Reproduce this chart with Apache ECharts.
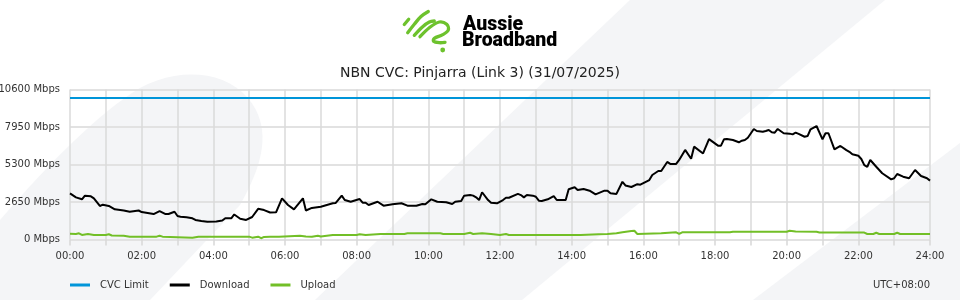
<!DOCTYPE html>
<html><head><meta charset="utf-8">
<script src="https://cdn.jsdelivr.net/npm/echarts@6/dist/echarts.min.js"></script>
<style>html,body{margin:0;padding:0;background:#fff}#c{width:960px;height:300px}</style>
</head><body><div id="c"></div>
<script>
const chartTitle = 'NBN CVC: Pinjarra (Link 3) (31/07/2025)';
const brandLines = ['Aussie', 'Broadband'];
const timezoneLabel = 'UTC+08:00';
const seriesNames = ['CVC Limit', 'Download', 'Upload'];
const seriesColors = ['#0095d9', '#000000', '#72bf27'];
const xTickLabels = ['00:00','02:00','04:00','06:00','08:00','10:00','12:00','14:00','16:00','18:00','20:00','22:00','24:00'];
const yTickValues = [0, 2650, 5300, 7950, 10600];
const cvcLimitMinutes = [0, 1440];
const cvcLimitMbps = [10000, 10000];
const downloadMinutes = [0,10,20,25,35,40,50,55,65,75,90,100,115,120,130,140,150,160,165,175,180,185,195,205,210,220,230,245,255,260,270,275,285,295,305,315,325,335,345,355,365,375,390,395,405,420,440,445,455,460,470,485,490,495,500,515,525,540,555,565,580,590,595,605,615,630,640,645,655,660,670,675,680,685,690,700,705,710,715,725,730,735,750,755,760,765,775,780,785,790,800,810,815,830,835,845,850,860,870,880,895,900,905,915,925,930,940,950,955,970,975,985,990,1000,1005,1015,1020,1030,1040,1045,1060,1070,1085,1090,1095,1100,1110,1120,1125,1130,1135,1145,1150,1160,1165,1170,1175,1180,1185,1195,1205,1210,1215,1220,1230,1235,1240,1250,1260,1265,1270,1280,1290,1300,1305,1310,1320,1325,1330,1335,1340,1350,1360,1375,1380,1385,1395,1405,1415,1425,1435,1440];
const downloadMbps = [3260,2980,2840,3100,3050,2910,2370,2460,2370,2130,2050,1960,2050,1940,1870,1800,2010,1800,1800,1960,1660,1610,1570,1500,1380,1310,1260,1270,1340,1500,1500,1770,1470,1380,1590,2170,2080,1910,1920,2910,2440,2130,2910,2050,2230,2320,2560,2580,3100,2790,2670,2860,2600,2600,2440,2670,2390,2490,2560,2390,2390,2510,2490,2840,2670,2630,2510,2670,2720,3100,3140,3100,2980,2790,3340,2790,2600,2580,2560,2790,2950,2950,3220,3140,2980,3140,3100,3020,2740,2720,2840,3070,2790,2790,3550,3690,3500,3570,3450,3190,3450,3450,3260,3220,4080,3820,3710,3910,3870,4200,4560,4840,4840,5480,5340,5340,5620,6330,5710,6560,6080,7090,6630,6630,7080,7100,7030,6870,6980,7030,7190,7810,7670,7620,7670,7740,7580,7550,7810,7510,7480,7430,7550,7460,7260,7310,7790,8020,7080,7510,7510,6370,6610,6320,6200,6020,5920,5690,5260,5140,5620,5140,4680,4250,4330,4630,4440,4330,4910,4490,4330,4160];
const uploadMinutes = [0,10,15,20,30,40,60,65,70,90,100,145,150,155,205,215,300,305,315,320,325,335,350,385,395,405,415,420,440,480,485,495,520,560,565,620,625,660,670,675,690,705,720,730,735,855,885,900,915,925,940,945,950,990,1015,1020,1025,1055,1105,1110,1200,1205,1215,1250,1255,1330,1335,1345,1350,1355,1380,1385,1390,1440];
const uploadMbps = [400,390,440,320,390,320,320,370,280,270,200,200,270,200,130,200,200,130,200,90,180,200,200,270,210,200,270,210,320,320,370,320,390,390,440,440,390,390,480,390,440,390,320,390,320,320,370,390,440,510,600,620,390,440,510,390,510,510,510,550,550,620,570,550,490,490,390,390,480,390,390,480,390,390];

function pairs(xs, ys) { return xs.map((x, i) => [x, ys[i]]); }
// sample a chain of cubic beziers: start point then [c1x,c1y,c2x,c2y,x,y] segments, or [x,y] lines
function curve(start, segs) {
  const pts = [start.slice()];
  let p = start.slice();
  segs.forEach(s => {
    if (s.length === 2) { pts.push(s.slice()); p = s.slice(); return; }
    for (let k = 1; k <= 16; k++) {
      const t = k / 16, u = 1 - t;
      pts.push([
        u*u*u*p[0] + 3*u*u*t*s[0] + 3*u*t*t*s[2] + t*t*t*s[4],
        u*u*u*p[1] + 3*u*u*t*s[1] + 3*u*t*t*s[3] + t*t*t*s[5]
      ]);
    }
    p = [s[4], s[5]];
  });
  return pts;
}
const ff = 'DejaVu Sans';
const chart = echarts.init(document.getElementById('c'), null, {renderer: 'canvas'});
const bg = '#f4f5f7';
const green = '#6dc22d';
const stroke = pts => ({type: 'polyline', shape: {points: pts, smooth: 0.35}, style: {fill: null, stroke: green, lineWidth: 3.3, lineCap: 'round', lineJoin: 'round'}});
chart.setOption({
  animation: false,
  backgroundColor: '#ffffff',
  title: {
    text: chartTitle, left: 'center', top: 61,
    textStyle: {fontFamily: ff, fontSize: 14, fontWeight: 'normal', color: '#222'}
  },
  graphic: [
    {type: 'polygon', z: -10, silent: true, shape: {points: curve([0,220], [[50,162,100,112,140,88],[185,64,236,72,256,110],[269,136,262,166,240,205],[150,300],[0,300]])}, style: {fill: bg}},
    {type: 'polygon', z: -10, silent: true, shape: {points: [[630,0],[885,0],[522,300],[315,300]]}, style: {fill: bg}},
    {type: 'polygon', z: -10, silent: true, shape: {points: [[960,143],[960,300],[753,300]]}, style: {fill: bg}},
    stroke([[404.3,24.5],[408.7,19.3]]),
    stroke([[407.7,32.7],[414.3,24.3],[421,16.5],[428.3,11.5]]),
    stroke([[414.3,35.3],[422.7,26.7],[429.3,22],[434.3,21]]),
    stroke([[420,36.7],[429.3,27.7],[439.3,22],[446.7,24.3],[448.3,30],[442.7,34.7],[434.3,38.3],[433.5,41.3],[439.3,42.7],[445,42.3]]),
    {type: 'circle', shape: {cx: 442.7, cy: 50, r: 2.4}, style: {fill: green}},
    {type: 'text', left: 463, top: 15, style: {text: brandLines[0], font: '900 19.5px Roboto', fill: '#000'}},
    {type: 'text', left: 462, top: 31, style: {text: brandLines[1], font: '900 19.5px Roboto', fill: '#000'}},
    {type: 'text', right: 30, top: 280, style: {text: timezoneLabel, font: '10px "DejaVu Sans"', fill: '#333'}}
  ],
  legend: {
    left: 70, top: 280, padding: 0, itemWidth: 20, itemHeight: 3, itemGap: 21, icon: 'rect',
    data: seriesNames,
    textStyle: {fontFamily: ff, fontSize: 10, color: '#333', padding: [0, 0, 0, 5]}
  },
  grid: {left: 70, right: 30, top: 89.5, bottom: 60.5, containLabel: false, outerBoundsMode: 'none'},
  xAxis: {
    type: 'value', min: 0, max: 1440, interval: 60,
    axisLine: {show: false},
    axisTick: {show: true, length: 6, lineStyle: {color: '#d8d8d8', width: 1.5}},
    splitLine: {show: true, lineStyle: {color: '#dadada', width: 1.5}},
    axisLabel: {
      margin: 12, fontFamily: ff, fontSize: 10, color: '#333',
      formatter: v => (v % 120 === 0 ? xTickLabels[v / 120] : '')
    }
  },
  yAxis: {
    type: 'value', min: yTickValues[0], max: yTickValues[yTickValues.length - 1], interval: yTickValues[1] - yTickValues[0],
    axisLine: {show: false}, axisTick: {show: false},
    splitLine: {show: true, lineStyle: {color: '#e2e2e2', width: 2}},
    axisLabel: {margin: 10, fontFamily: ff, fontSize: 10, color: '#333', formatter: v => v + ' Mbps'}
  },
  series: [
    {name: seriesNames[0], type: 'line', data: pairs(cvcLimitMinutes, cvcLimitMbps), showSymbol: false, symbol: 'none', lineStyle: {color: seriesColors[0], width: 2}, itemStyle: {color: seriesColors[0]}},
    {name: seriesNames[1], type: 'line', data: pairs(downloadMinutes, downloadMbps), showSymbol: false, symbol: 'none', lineStyle: {color: seriesColors[1], width: 2}, itemStyle: {color: seriesColors[1]}},
    {name: seriesNames[2], type: 'line', data: pairs(uploadMinutes, uploadMbps), showSymbol: false, symbol: 'none', lineStyle: {color: seriesColors[2], width: 2}, itemStyle: {color: seriesColors[2]}}
  ]
});
</script></body></html>
